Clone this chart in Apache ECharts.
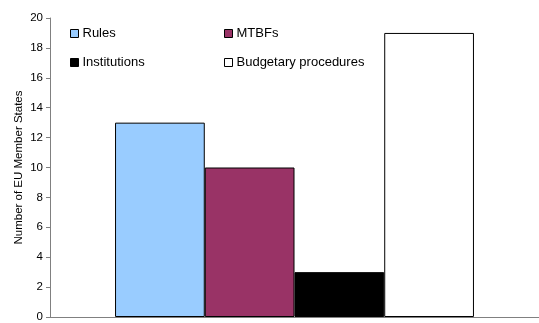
<!DOCTYPE html>
<html>
<head>
<meta charset="utf-8">
<script src="https://cdn.jsdelivr.net/npm/echarts@6/dist/echarts.min.js"></script>
<style>
  html, body { margin: 0; padding: 0; background: #fff; }
  #chart { width: 539px; height: 323px; }
</style>
</head>
<body>
<div id="chart"></div>
<script>
// Count of EU member states per fiscal-framework dimension
const categories = [''];
const seriesNames = ['Rules', 'MTBFs', 'Institutions', 'Budgetary procedures'];
const seriesValues = [[13], [10], [3], [19]];
const seriesColors = ['#99CCFF', '#993366', '#000000', '#FFFFFF'];
const yTicks = { min: 0, max: 20, interval: 2 };

const chart = echarts.init(document.getElementById('chart'));

const legendCommon = {
  orient: 'vertical',
  top: 22,
  itemGap: 16,
  itemWidth: 8,
  itemHeight: 8,
  icon: 'rect',
  itemStyle: { borderColor: '#000', borderWidth: 1 },
  textStyle: { fontFamily: 'Liberation Sans, Arial, sans-serif', fontSize: 13, color: '#000', padding: [0, 0, 0, -1] },
  selectedMode: false
};

chart.setOption({
  animation: false,
  backgroundColor: '#fff',
  textStyle: { fontFamily: 'Liberation Sans, Arial, sans-serif' },
  grid: { left: 50, right: 0, top: 18, bottom: 3, containLabel: false },
  legend: [
    Object.assign({}, legendCommon, { left: 65, data: [seriesNames[0], seriesNames[2]] }),
    Object.assign({}, legendCommon, { left: 219, data: [seriesNames[1], seriesNames[3]] })
  ],
  xAxis: {
    type: 'category',
    data: categories,
    axisLine: { lineStyle: { color: '#808080', width: 1 } },
    axisTick: { show: false },
    axisLabel: { show: false }
  },
  yAxis: {
    type: 'value',
    min: yTicks.min,
    max: yTicks.max,
    interval: yTicks.interval,
    name: 'Number of EU Member States',
    nameLocation: 'middle',
    nameGap: 25,
    nameMoveOverlap: false,
    nameTextStyle: { fontSize: 11.5, color: '#000', fontFamily: 'Liberation Sans, Arial, sans-serif' },
    axisLine: { show: true, lineStyle: { color: '#808080', width: 1 } },
    axisTick: { show: true, length: 4, lineStyle: { color: '#808080' } },
    axisLabel: { fontSize: 11.5, color: '#000', margin: 7 },
    splitLine: { show: false }
  },
  series: seriesNames.map((name, i) => ({
    name: name,
    type: 'bar',
    data: seriesValues[i],
    barGap: '0%',
    barCategoryGap: '26.6%',
    itemStyle: { color: seriesColors[i], borderColor: '#000', borderWidth: 1 }
  }))
});
</script>
</body>
</html>
